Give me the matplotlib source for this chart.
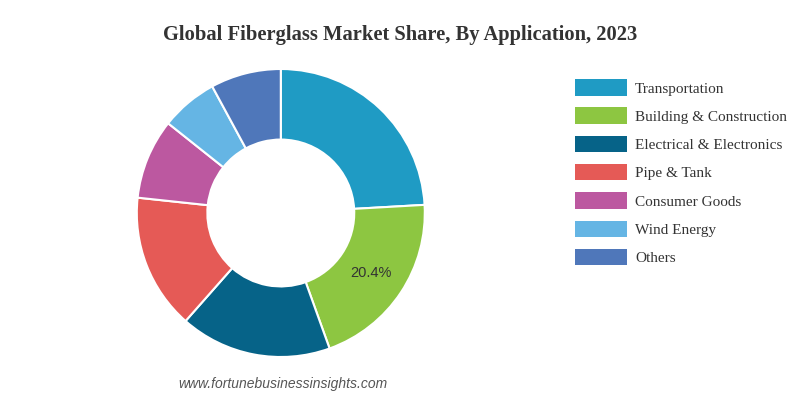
import matplotlib
matplotlib.use("Agg")
import matplotlib.pyplot as plt
from matplotlib.patches import Patch
import numpy as np

# market share by application, 2023 (%)
categories = ["Transportation", "Building & Construction", "Electrical & Electronics",
              "Pipe & Tank", "Consumer Goods", "Wind Energy", "Others"]
shares = [24.1, 20.4, 17.0, 15.2, 9.0, 6.4, 7.9]
colors = ["#1f9bc4", "#8dc641", "#066388", "#e55a56", "#bc58a0", "#65b5e4", "#4f77ba"]
shown_label = "Building & Construction"


def main():
    fig = plt.figure(figsize=(8, 4), dpi=100)
    fig.patch.set_facecolor("white")

    ax = fig.add_axes([0.171, 0.1075, 0.36, 0.72])
    ax.pie(
        shares,
        colors=colors,
        startangle=90,
        counterclock=False,
        radius=1.0,
        wedgeprops=dict(width=0.49, edgecolor="white", linewidth=1.5),
    )
    ax.set_xlim(-1, 1)
    ax.set_ylim(-1, 1)
    ax.set_aspect("equal")
    ax.axis("off")

    # only one slice carries a value label
    total = sum(shares)
    start = 90.0
    for name, val in zip(categories, shares):
        end = start - val / total * 360
        if name == shown_label:
            mid = np.radians((start + end) / 2)
            r = 0.75
            ax.text(r * np.cos(mid), r * np.sin(mid), f"{val:.1f}%",
                    ha="center", va="center", fontsize=10.5, color="#333333",
                    family="Liberation Sans")
        start = end

    fig.text(0.5, 0.913, "Global Fiberglass Market Share, By Application, 2023",
             ha="center", va="center", fontsize=14.8, fontweight="bold",
             family="Liberation Serif", color="#333333")

    handles = [Patch(facecolor=c, edgecolor="none") for c in colors]
    fig.legend(handles, categories, loc="upper left", bbox_to_anchor=(0.719, 0.802),
               frameon=False, borderpad=0, borderaxespad=0,
               prop={"family": "Liberation Serif", "size": 11},
               handlelength=3.4, handleheight=1.27, labelspacing=0.78,
               handletextpad=0.52, labelcolor="#333333")

    fig.text(0.354, 0.04, "www.fortunebusinessinsights.com", ha="center", va="center",
             fontsize=10, style="italic", family="Liberation Sans", color="#555555")

    fig.savefig("out.png", dpi=100)


if __name__ == "__main__":
    main()
